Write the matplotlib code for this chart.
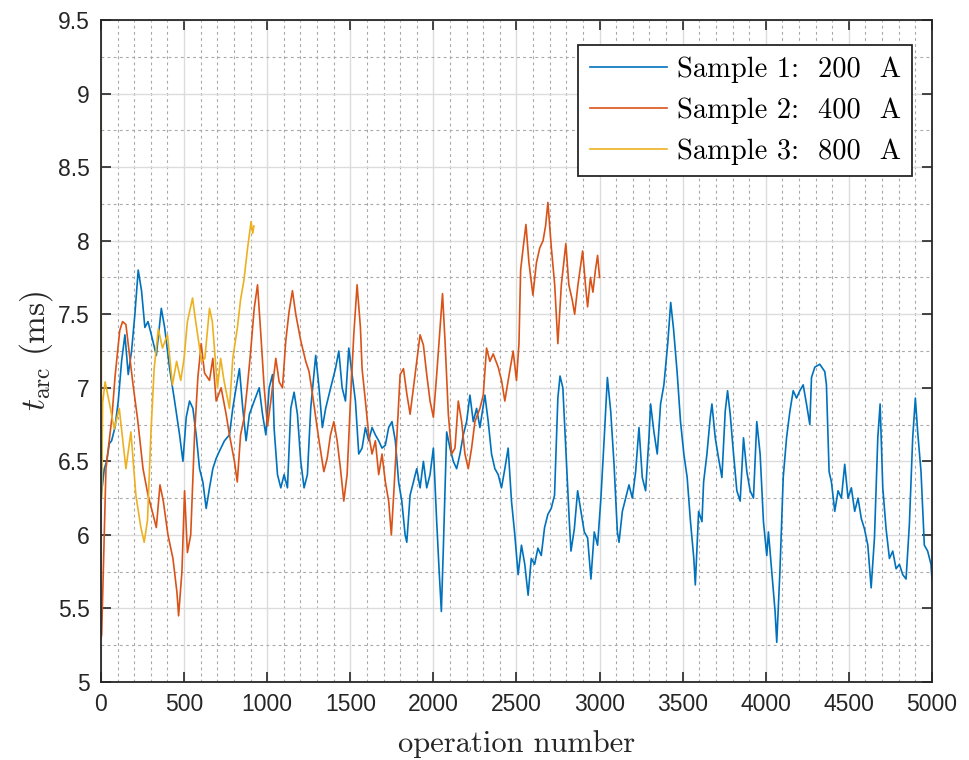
import numpy as np
import matplotlib.pyplot as plt
from matplotlib.ticker import MultipleLocator, FormatStrFormatter

# sample 1: 200 A
x1 = [0, 20, 34, 50, 64, 84, 104, 124, 144, 164, 184, 204, 224, 244, 264, 283, 303, 333, 363, 383,
      413, 443, 473, 493, 513, 533, 553, 573, 593, 613, 633, 653, 673, 693, 713, 743, 773, 793, 813, 833,
      853, 873, 893, 922, 952, 972, 992, 1012, 1032, 1042, 1062, 1082, 1102, 1122, 1142, 1162, 1182, 1202,
      1222, 1242, 1262, 1292, 1312, 1332, 1352, 1382, 1411, 1431, 1451, 1471, 1491, 1511, 1531, 1551, 1571,
      1591, 1611, 1631, 1651, 1671, 1691, 1711, 1731, 1751, 1771, 1791, 1810, 1830, 1840, 1860, 1880, 1900,
      1920, 1940, 1960, 1980, 2000, 2020, 2034, 2048, 2060, 2080, 2100, 2120, 2140, 2160, 2180, 2200, 2220,
      2240, 2260, 2280, 2310, 2330, 2350, 2370, 2390, 2410, 2430, 2450, 2470, 2490, 2510, 2530, 2550, 2570,
      2589, 2609, 2629, 2649, 2669, 2689, 2709, 2729, 2739, 2749, 2762, 2779, 2798, 2818, 2828, 2848, 2868,
      2888, 2908, 2928, 2948, 2968, 2988, 3008, 3028, 3047, 3067, 3087, 3107, 3117, 3137, 3157, 3177, 3197,
      3217, 3237, 3257, 3277, 3297, 3307, 3327, 3347, 3367, 3387, 3410, 3428, 3445, 3467, 3487, 3507, 3527,
      3547, 3567, 3576, 3596, 3616, 3626, 3646, 3666, 3676, 3696, 3716, 3736, 3756, 3770, 3786, 3806, 3826,
      3846, 3866, 3886, 3906, 3926, 3946, 3966, 3986, 4006, 4016, 4036, 4056, 4066, 4085, 4105, 4125, 4145,
      4165, 4185, 4205, 4225, 4245, 4265, 4275, 4295, 4325, 4355, 4365, 4381, 4395, 4415, 4435, 4455, 4475,
      4495, 4515, 4535, 4555, 4575, 4594, 4614, 4634, 4654, 4674, 4688, 4704, 4724, 4744, 4764, 4784, 4804,
      4824, 4844, 4864, 4884, 4900, 4914, 4934, 4954, 4974, 4994, 5000]
y1 = [6.25, 6.45, 6.5, 6.62, 6.64, 6.73, 6.91, 7.18, 7.36, 7.09, 7.25, 7.5, 7.8, 7.66, 7.41, 7.45, 7.36, 7.22, 7.54, 7.41,
      7.13, 6.91, 6.68, 6.5, 6.8, 6.91, 6.86, 6.68, 6.45, 6.36, 6.18, 6.32, 6.45, 6.52, 6.57, 6.64, 6.68, 6.86, 7.0, 7.13,
      6.86, 6.64, 6.82, 6.91, 7.0, 6.82, 6.68, 7.0, 7.09, 6.72, 6.41, 6.32, 6.41, 6.32, 6.86, 6.97, 6.82, 6.5,
      6.32, 6.41, 6.86, 7.22, 7.0, 6.73, 6.86, 7.0, 7.13, 7.25, 7.0, 6.91, 7.27, 7.09, 6.91, 6.55, 6.59,
      6.73, 6.64, 6.73, 6.68, 6.64, 6.59, 6.61, 6.73, 6.77, 6.64, 6.36, 6.23, 6.0, 5.95, 6.27, 6.36, 6.45,
      6.32, 6.5, 6.32, 6.41, 6.59, 6.09, 5.77, 5.48, 5.91, 6.7, 6.59, 6.5, 6.45, 6.55, 6.68, 6.77, 6.95,
      6.77, 6.86, 6.73, 6.95, 6.77, 6.55, 6.45, 6.41, 6.32, 6.45, 6.59, 6.23, 6.0, 5.73, 5.93, 5.8, 5.59,
      5.84, 5.8, 5.91, 5.86, 6.05, 6.14, 6.18, 6.27, 6.59, 6.93, 7.08, 7.0, 6.55, 6.09, 5.89, 6.04, 6.3,
      6.16, 6.02, 5.98, 5.7, 6.02, 5.93, 6.25, 6.66, 7.07, 6.84, 6.48, 6.02, 5.95, 6.16, 6.25, 6.34, 6.25,
      6.43, 6.73, 6.39, 6.3, 6.66, 6.89, 6.7, 6.55, 6.89, 7.02, 7.3, 7.58, 7.4, 7.1, 6.77, 6.55, 6.39,
      6.09, 5.84, 5.66, 6.16, 6.09, 6.36, 6.55, 6.8, 6.89, 6.66, 6.52, 6.39, 6.84, 6.98, 6.82, 6.55, 6.3,
      6.23, 6.66, 6.43, 6.3, 6.25, 6.77, 6.55, 6.09, 5.86, 6.02, 5.75, 5.48, 5.27, 5.75, 6.39, 6.66, 6.84,
      6.98, 6.93, 6.98, 7.02, 6.89, 6.75, 7.07, 7.14, 7.16, 7.11, 7.02, 6.43, 6.36, 6.16, 6.3, 6.25, 6.48,
      6.25, 6.32, 6.16, 6.25, 6.11, 6.04, 5.93, 5.64, 5.98, 6.66, 6.89, 6.32, 6.04, 5.84, 5.89, 5.77, 5.8,
      5.73, 5.7, 6.07, 6.66, 6.93, 6.7, 6.43, 5.93, 5.89, 5.8, 5.7]

# sample 2: 400 A
x2 = [0, 4, 30, 65, 85, 113, 130, 150, 170, 193, 220, 253, 283, 313, 333, 355, 375, 403, 433, 457,
      467, 487, 503, 520, 540, 563, 583, 603, 623, 653, 673, 693, 723, 753, 773, 803, 820, 840, 860, 880,
      900, 922, 942, 962, 982, 1002, 1022, 1052, 1072, 1092, 1112, 1132, 1152, 1172, 1202, 1232, 1252, 1272,
      1292, 1312, 1341, 1361, 1381, 1401, 1421, 1441, 1461, 1481, 1501, 1521, 1541, 1561, 1571, 1591, 1611,
      1631, 1651, 1671, 1691, 1711, 1731, 1747, 1761, 1781, 1800, 1820, 1840, 1860, 1880, 1900, 1920, 1940,
      1960, 1980, 2000, 2020, 2040, 2055, 2070, 2090, 2110, 2130, 2150, 2170, 2190, 2210, 2230, 2250, 2280,
      2300, 2320, 2340, 2360, 2390, 2410, 2430, 2450, 2480, 2500, 2515, 2525, 2540, 2557, 2575, 2599, 2620,
      2640, 2660, 2675, 2689, 2710, 2730, 2749, 2770, 2797, 2815, 2835, 2850, 2870, 2898, 2915, 2928, 2945,
      2960, 2975, 2988, 3000]
y2 = [5.3, 5.32, 6.45, 6.79, 7.08, 7.39, 7.45, 7.43, 7.24, 7.02, 6.79, 6.45, 6.27, 6.14, 6.05, 6.34, 6.23, 6.0, 5.84, 5.61,
      5.45, 5.75, 6.3, 5.88, 6.0, 6.68, 7.07, 7.3, 7.1, 7.05, 7.2, 6.91, 7.0, 6.82, 6.68, 6.5, 6.36, 6.68, 6.79, 7.0,
      7.24, 7.54, 7.7, 7.36, 7.0, 6.74, 6.91, 7.2, 7.04, 7.0, 7.32, 7.52, 7.66, 7.5, 7.32, 7.18, 7.11, 6.96,
      6.8, 6.64, 6.43, 6.52, 6.68, 6.77, 6.64, 6.45, 6.23, 6.41, 6.91, 7.36, 7.7, 7.41, 7.13, 6.91, 6.68,
      6.55, 6.64, 6.41, 6.55, 6.36, 6.23, 6.0, 6.27, 6.68, 7.09, 7.13, 6.96, 6.82, 7.0, 7.18, 7.36, 7.29,
      7.09, 6.91, 6.8, 7.09, 7.4, 7.64, 7.32, 6.82, 6.55, 6.59, 6.91, 6.77, 6.55, 6.45, 6.59, 6.77, 6.86,
      6.95, 7.27, 7.18, 7.23, 7.14, 7.05, 6.91, 7.05, 7.25, 7.05, 7.3, 7.8, 7.95, 8.11, 7.85, 7.63, 7.85,
      7.95, 8.0, 8.1, 8.26, 7.95, 7.7, 7.3, 7.7, 7.98, 7.7, 7.6, 7.5, 7.7, 7.93, 7.7, 7.55, 7.75,
      7.65, 7.8, 7.9, 7.75]

# sample 3: 800 A
x3 = [0, 3, 10, 25, 50, 80, 110, 150, 180, 210, 240, 260, 280, 300, 320, 345, 370, 400, 430, 455,
      480, 500, 520, 551, 570, 605, 625, 653, 670, 701, 720, 740, 773, 793, 821, 840, 860, 880, 903, 913, 920]
y3 = [9.0, 6.25, 6.9, 7.04, 6.9, 6.72, 6.86, 6.45, 6.7, 6.27, 6.05, 5.95, 6.1, 6.68, 7.13, 7.4, 7.27, 7.36, 7.02, 7.18,
      7.05, 7.2, 7.45, 7.61, 7.45, 7.18, 7.2, 7.54, 7.45, 7.0, 7.2, 7.05, 6.86, 7.2, 7.41, 7.6, 7.73, 7.93, 8.13, 8.05, 8.1]

labels = ['Sample 1:  200  A', 'Sample 2:  400  A', 'Sample 3:  800  A']

plt.rcParams['mathtext.fontset'] = 'cm'
plt.rcParams['font.family'] = ['Liberation Sans', 'DejaVu Sans']

fig = plt.figure(figsize=(9.7, 7.6), dpi=100)
ax = fig.add_axes([0.1041, 0.1026, 0.8567, 0.8711])

ax.plot(x1, y1, color='#0072BD', lw=1.2, label=labels[0])
ax.plot(x2, y2, color='#D95319', lw=1.2, label=labels[1])
ax.plot(x3, y3, color='#EDB120', lw=1.2, label=labels[2])

ax.set_xlim(0, 5000)
ax.set_ylim(5, 9.5)
ax.xaxis.set_major_locator(MultipleLocator(500))
ax.xaxis.set_minor_locator(MultipleLocator(100))
ax.yaxis.set_major_locator(MultipleLocator(0.5))
ax.yaxis.set_minor_locator(MultipleLocator(0.25))
ax.yaxis.set_major_formatter(FormatStrFormatter('%g'))

ax.grid(which='major', color='#dcdcdc', lw=1.0, ls='-')
ax.grid(which='minor', color='#a8a8a8', lw=0.8, ls=(0, (2.5, 3)))
ax.set_axisbelow(True)

ax.tick_params(which='major', direction='in', length=7, width=1.2, top=True, right=True,
               labelsize=16.5, colors='#262626', pad=8)
ax.tick_params(which='minor', length=0)
for s in ax.spines.values():
    s.set_color('#262626')
    s.set_linewidth(1.3)

ax.set_xlabel('operation number', family='cmr10', fontsize=22, color='#262626', labelpad=10)
ax.set_ylabel(r'$t_{\mathrm{arc}}\ \mathrm{(ms)}$', fontsize=24, color='#262626', labelpad=2)

leg = ax.legend(loc='upper right', bbox_to_anchor=(0.976, 0.962), frameon=True,
                prop={'family': 'cmr10', 'size': 20.5},
                fancybox=False, framealpha=1, edgecolor='#262626', handlelength=2.7,
                borderpad=0.4, labelspacing=0.5, handletextpad=0.35, borderaxespad=0)
leg.get_frame().set_linewidth(1.3)

fig.savefig('out.png', dpi=100)
